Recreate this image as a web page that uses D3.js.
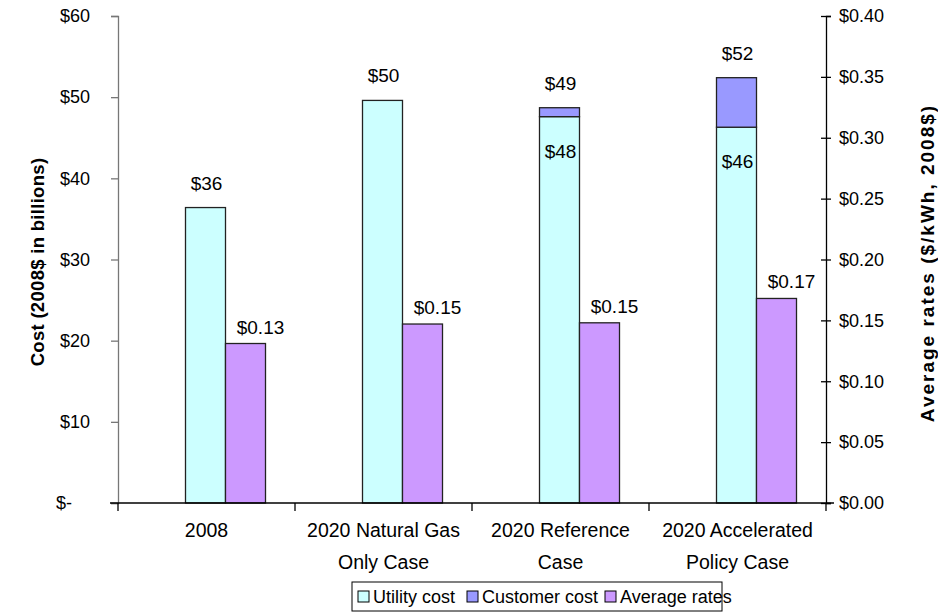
<!DOCTYPE html>
<html><head><meta charset="utf-8">
<script src="https://cdn.jsdelivr.net/npm/d3@7"></script>
<style>
body{margin:0;background:#fff;}
text{font-family:"Liberation Sans",Arial,sans-serif;}
</style></head>
<body><svg id="chart" width="938" height="613"></svg>
<script>
const categories = [["2008"], ["2020 Natural Gas","Only Case"], ["2020 Reference","Case"], ["2020 Accelerated","Policy Case"]];
const utilityCost = [36.4, 49.6, 47.6, 46.3];
const customerCost = [0, 0, 1.1, 6.1];
const averageRates = [0.131, 0.147, 0.148, 0.168];
const costTicks = [0, 10, 20, 30, 40, 50, 60];
const rateTicks = [0, 0.05, 0.10, 0.15, 0.20, 0.25, 0.30, 0.35, 0.40];
const seriesNames = ["Utility cost", "Customer cost", "Average rates"];
const colors = ["#CCFFFF", "#9999FF", "#CC99FF"];

const svg = d3.select("#chart");
const L = 118, R = 826, T = 16, B = 503;
const idx = categories.map((c,i)=>i);
const x = d3.scaleBand().domain(idx).range([L, R]);
const yC = d3.scaleLinear().domain([0, 60]).range([B, T]);
const yR = d3.scaleLinear().domain([0, 0.40]).range([B, T]);
const bw = x.bandwidth() * 0.226;
const fs = 18, fsData = 19, fsCat = 19.5;

// bars
const g = svg.append("g");
idx.forEach(i => {
  const cx = x(i) + x.bandwidth()/2;
  const x0 = cx - bw/2 - 1;
  const u = utilityCost[i], c = customerCost[i], tot = u + c;
  g.append("rect").attr("x", x0).attr("y", yC(u)).attr("width", bw).attr("height", yC(0)-yC(u))
    .attr("fill", colors[0]).attr("stroke", "#222").attr("stroke-width", 1.3);
  if (c > 0) {
    g.append("rect").attr("x", x0).attr("y", yC(tot)).attr("width", bw).attr("height", yC(u)-yC(tot))
      .attr("fill", colors[1]).attr("stroke", "#222").attr("stroke-width", 1.3);
    g.append("text").attr("x", cx).attr("y", yC(u)+41).attr("text-anchor","middle")
      .attr("font-size", fsData).text(d3.format("$.0f")(u));
  }
  g.append("text").attr("x", cx).attr("y", yC(tot)-18).attr("text-anchor","middle")
    .attr("font-size", fsData).text(d3.format("$.0f")(tot));
  const px = x0 + bw;
  const r = averageRates[i];
  g.append("rect").attr("x", px).attr("y", yR(r)).attr("width", bw).attr("height", yR(0)-yR(r))
    .attr("fill", colors[2]).attr("stroke", "#222").attr("stroke-width", 1.3);
  g.append("text").attr("x", px + bw/2 + 15).attr("y", yR(r)-10).attr("text-anchor","middle")
    .attr("font-size", fsData).text(d3.format("$.2f")(r));
});

// left axis
const la = svg.append("g").attr("transform", `translate(${L},0)`)
  .call(d3.axisLeft(yC).tickValues(costTicks).tickSize(7).tickPadding(21)
    .tickFormat(v => v === 0 ? "$-" : "$" + v));
la.select(".domain").attr("stroke", "#777").attr("stroke-width", 1.3);
la.selectAll(".tick line").attr("stroke", "#777").attr("stroke-width", 1.3);
la.selectAll("text").attr("font-size", fs).attr("font-family", "Liberation Sans, Arial, sans-serif").attr("fill", "#000");
la.selectAll(".tick text").filter(d => d === 0).attr("dx", -18);

// right axis
const ra = svg.append("g").attr("transform", `translate(${R},0)`)
  .call(d3.axisRight(yR).tickValues(rateTicks).tickSize(5).tickPadding(8)
    .tickFormat(d3.format("$.2f")));
ra.select(".domain").attr("stroke", "#000").attr("stroke-width", 1.3);
ra.selectAll(".tick line").attr("stroke", "#000").attr("stroke-width", 1.3).attr("x1", -5);
ra.selectAll("text").attr("font-size", fs).attr("font-family", "Liberation Sans, Arial, sans-serif").attr("fill", "#000");

// x axis
svg.append("line").attr("x1", L-8).attr("x2", R+8).attr("y1", B).attr("y2", B)
  .attr("stroke", "#000").attr("stroke-width", 1.3);
const edges = idx.map(i => x(i)).concat([R]);
svg.selectAll(".ctick").data(edges).enter().append("line")
  .attr("x1", d=>d).attr("x2", d=>d).attr("y1", B).attr("y2", B+8)
  .attr("stroke", "#000").attr("stroke-width", 1.3);
idx.forEach(i => {
  const cx = x(i) + x.bandwidth()/2;
  const t = svg.append("text").attr("x", cx).attr("y", 537).attr("text-anchor","middle").attr("font-size", fsCat);
  categories[i].forEach((line, k) => t.append("tspan").attr("x", cx).attr("dy", k === 0 ? 0 : 32).text(line));
});

// axis titles
svg.append("text").attr("transform", "translate(44,262) rotate(-90)").attr("text-anchor","middle")
  .attr("font-size", 18.5).attr("font-weight","bold").attr("letter-spacing", 0.3).text("Cost (2008$ in billions)");
svg.append("text").attr("transform", "translate(934,263) rotate(-90)").attr("text-anchor","middle")
  .attr("font-size", 19).attr("font-weight","bold").attr("letter-spacing", 2)
  .text("Average rates ($/kWh, 2008$)");

// legend
const lg = svg.append("g");
lg.append("rect").attr("x", 352).attr("y", 582).attr("width", 370).attr("height", 29)
  .attr("fill", "#fff").attr("stroke", "#000").attr("stroke-width", 1);
const itemX = [358, 467, 605];
seriesNames.forEach((n, k) => {
  lg.append("rect").attr("x", itemX[k]).attr("y", 591).attr("width", 11).attr("height", 11)
    .attr("fill", colors[k]).attr("stroke", "#000").attr("stroke-width", 1);
  lg.append("text").attr("x", itemX[k] + 15).attr("y", 603).attr("font-size", fs).text(n);
});
</script></body></html>
